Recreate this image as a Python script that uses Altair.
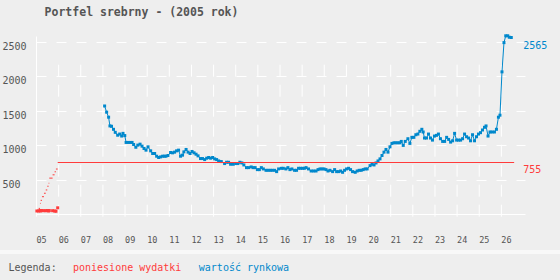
import altair as alt
import pandas as pd

TITLE = "Portfel srebrny - (2005 rok)"
LEGEND_TITLE = "Legenda:"
SERIES = ["poniesione wydatki", "wartość rynkowa"]
RED, BLUE, GREY = "#ff3b3b", "#0088cc", "#555555"
BG = "#eeeeee"
FONT = "DejaVu Sans Mono"

tick_years = list(range(5, 27))
y_ticks = [500, 1000, 1500, 2000, 2500]

# expenses (poniesione wydatki)
red_dates = [5.04, 5.12, 5.18, 5.21, 5.27, 5.36, 5.44, 5.51, 5.57, 5.60, 5.75, 5.84, 5.90, 5.98]
red_cum = [44, 88, 161, 205, 258, 308, 356, 410, 454, 528, 576, 620, 660, 755]
red_amounts = [44, 44, 50, 44, 50, 48, 48, 50, 44, 50, 48, 44, 40, 90]
end_date = 26.6

# market value (wartość rynkowa)
blue_dates = [
    8.10, 8.19, 8.28, 8.34, 8.41, 8.50, 8.58, 8.69, 8.78, 8.87,
    8.93, 9.01, 9.07, 9.16, 9.25, 9.34, 9.41, 9.51, 9.60, 9.70,
    9.79, 9.88, 9.97, 10.06, 10.18, 10.27, 10.36, 10.45, 10.54, 10.63,
    10.72, 10.80, 10.87, 10.96, 11.08, 11.17, 11.26, 11.35, 11.44, 11.53,
    11.62, 11.68, 11.78, 11.87, 11.96, 12.05, 12.14, 12.23, 12.32, 12.43,
    12.52, 12.62, 12.71, 12.80, 12.89, 12.98, 13.07, 13.16, 13.25, 13.37,
    13.52, 13.61, 13.70, 13.79, 13.91, 14.03, 14.12, 14.21, 14.30, 14.39,
    14.51, 14.60, 14.72, 14.81, 14.90, 15.00, 15.09, 15.18, 15.27, 15.39,
    15.48, 15.58, 15.67, 15.78, 15.87, 15.96, 16.08, 16.17, 16.29, 16.38,
    16.47, 16.56, 16.68, 16.77, 16.86, 16.95, 17.04, 17.12, 17.20, 17.31,
    17.43, 17.54, 17.65, 17.74, 17.83, 17.92, 18.01, 18.10, 18.19, 18.28,
    18.40, 18.49, 18.58, 18.67, 18.76, 18.85, 18.94, 19.03, 19.12, 19.21,
    19.30, 19.42, 19.51, 19.60, 19.69, 19.78, 19.87, 19.96, 20.09, 20.18,
    20.27, 20.36, 20.45, 20.54, 20.63, 20.72, 20.81, 20.90, 20.99, 21.08,
    21.17, 21.26, 21.35, 21.44, 21.50, 21.59, 21.68, 21.80, 21.89, 21.98,
    22.07, 22.16, 22.25, 22.34, 22.43, 22.49, 22.55, 22.64, 22.73, 22.82,
    22.91, 23.00, 23.09, 23.18, 23.27, 23.37, 23.46, 23.55, 23.64, 23.73,
    23.82, 23.91, 24.00, 24.09, 24.18, 24.27, 24.36, 24.45, 24.54, 24.63,
    24.72, 24.81, 24.90, 24.99, 25.08, 25.17, 25.26, 25.33, 25.42, 25.51,
    25.60, 25.71, 25.80, 25.89, 25.96, 26.05, 26.14, 26.22, 26.31, 26.38,
    26.47,
]
blue_values = [
    1570, 1480, 1407, 1280, 1275, 1231, 1187, 1145, 1162, 1133,
    1172, 1140, 1040, 1040, 1040, 1040, 1010, 970, 1001, 1015,
    986, 952, 928, 976, 918, 879, 879, 840, 821, 830,
    840, 840, 840, 850, 894, 889, 899, 918, 928, 840,
    855, 903, 938, 899, 879, 909, 889, 869, 845, 806,
    806, 791, 811, 821, 811, 821, 801, 791, 771, 762,
    733, 752, 752, 723, 723, 733, 733, 752, 742, 713,
    674, 674, 684, 674, 674, 645, 645, 674, 655, 635,
    635, 635, 635, 635, 616, 655, 664, 664, 655, 674,
    645, 655, 635, 635, 664, 664, 664, 664, 674, 655,
    625, 625, 625, 645, 655, 655, 655, 645, 625, 635,
    616, 645, 616, 616, 625, 606, 635, 655, 664, 645,
    616, 606, 625, 635, 635, 645, 655, 655, 703, 723,
    713, 742, 771, 801, 850, 899, 938, 899, 976, 1026,
    1035, 1035, 1035, 1035, 1055, 997, 1055, 1094, 1026, 1114,
    1114, 1152, 1162, 1202, 1231, 1192, 1104, 1104, 1162, 1104,
    1074, 1133, 1143, 1162, 1094, 1055, 1055, 1114, 1084, 1045,
    1064, 1172, 1074, 1074, 1074, 1094, 1162, 1123, 1104, 1064,
    1152, 1064, 1123, 1162, 1182, 1221, 1260, 1280, 1133, 1192,
    1192, 1192, 1231, 1407, 1436, 2066, 2491, 2590, 2590, 2569,
    2565,
]

W, H = 489, 178
xs = alt.Scale(domain=[5, 27.09], nice=False, zero=False)
ys = alt.Scale(domain=[0, 2587], nice=False, zero=False)

red_df = pd.DataFrame({
    "date": red_dates,
    "next": red_dates[1:] + [end_date],
    "cum": red_cum,
    "amount": red_amounts,
})
blue_df = pd.DataFrame({"date": blue_dates, "value": blue_values})
grid_df = pd.DataFrame({"date": tick_years})
end_df = pd.DataFrame({
    "date": [end_date, end_date],
    "value": [red_cum[-1], blue_values[-1]],
    "color": [RED, BLUE],
})

x_axis = alt.Axis(
    values=tick_years, format="02d", labelAlign="left", labelBaseline="alphabetic",
    labelPadding=28, ticks=False, tickSize=0, grid=False, domainColor="white",
    domainWidth=1, labelColor=GREY, labelFont=FONT, labelFontSize=8.5,
    labelFlush=False, labelOverlap=False, title=None,
)
y_axis = alt.Axis(
    values=y_ticks, format="d", labelAlign="left", labelBaseline="alphabetic",
    labelPadding=34, labelOffset=7.5, ticks=False, tickSize=0, grid=True,
    gridColor="white", gridDash=[10, 10], gridWidth=1, domainColor="white",
    domainWidth=1, labelColor=GREY, labelFont=FONT, labelFontSize=10,
    labelFlush=False, labelOverlap=False, title=None,
)


def X(field="date"):
    return alt.X(f"{field}:Q", scale=xs, axis=x_axis)


def Y(field):
    return alt.Y(f"{field}:Q", scale=ys, axis=y_axis)


vgrid = alt.Chart(grid_df).mark_rule(
    color="white", strokeWidth=1, strokeDash=[12, 8], xOffset=0.5
).encode(x=X(), y=alt.value(180.7), y2=alt.value(27.3))

blue_line = alt.Chart(blue_df).mark_line(color=BLUE, strokeWidth=1).encode(
    x=X(), y=Y("value")
)
blue_pts = alt.Chart(blue_df).mark_square(color=BLUE, size=9, opacity=1).encode(
    x=X(), y=Y("value")
)

red_steps = alt.Chart(red_df).mark_rule(color=RED, strokeWidth=1, yOffset=0.45).encode(
    x=X(), x2="next:Q", y=Y("cum")
)
red_pts = alt.Chart(red_df).mark_square(color=RED, size=9, opacity=1).encode(
    x=X(), y=Y("amount")
)

end_labels = alt.Chart(end_df).mark_text(
    align="left", baseline="alphabetic", dx=9, dy=11, font=FONT, fontSize=10
).encode(
    x=X(), y=Y("value"), text="value:Q",
    color=alt.Color("color:N", scale=None),
)


def label(text, x, y, color, size=10, weight="normal"):
    return alt.Chart(pd.DataFrame({"t": [text]})).mark_text(
        align="left", baseline="alphabetic", font=FONT, fontSize=size,
        fontWeight=weight, color=color,
    ).encode(text="t:N", x=alt.value(x), y=alt.value(y))


separator = alt.Chart(pd.DataFrame({"a": [0]})).mark_rule(
    color="#f8f8f8", strokeWidth=4
).encode(x=alt.value(-36), x2=alt.value(524), y=alt.value(216))

title = label(TITLE, 8.6, -20, GREY, size=11.5, weight="bold")
leg0 = label(LEGEND_TITLE, -27.5, 234.7, GREY)
leg1 = label(SERIES[0], 37, 234.7, RED)
leg2 = label(SERIES[1], 162.8, 234.7, BLUE)

chart = alt.layer(
    vgrid, blue_line, blue_pts, red_steps, red_pts, end_labels,
    separator, title, leg0, leg1, leg2,
).properties(
    width=W, height=H,
    padding={"left": 36, "top": 36, "right": 35, "bottom": 66},
    autosize=alt.AutoSizeParams(type="none"),
).configure(background=BG).configure_view(stroke=None)

chart.save("out.html", embed_options={"renderer": "svg", "actions": False})
